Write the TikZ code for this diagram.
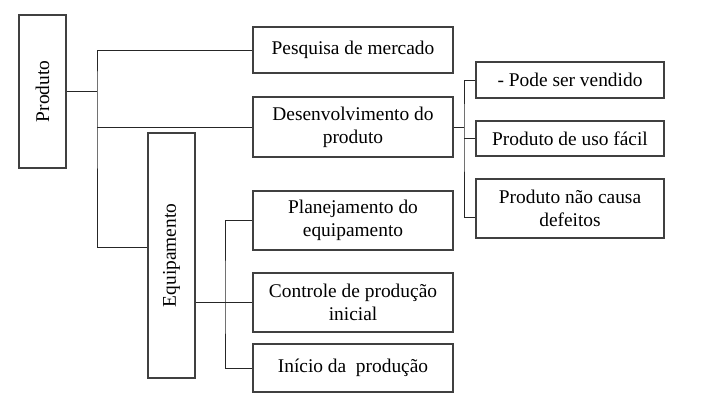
\documentclass[tikz,border=0pt]{standalone}
\usepackage{fontspec}
\setmainfont{Liberation Serif}
\usepackage{tikz}
\usetikzlibrary{calc}

\begin{document}
\begin{tikzpicture}[x=1pt,y=-1pt]
		\tikzset{bloco/.style={draw=black!75,line width=1.4pt,rectangle,inner sep=0pt,align=center,font=\fontsize{19.4}{23}\selectfont},
		liga/.style={black!85,line width=1pt}}
		\useasboundingbox (0,0) rectangle (727,408);
		\node (prod) at (42.5,91.5) [bloco,minimum width=47,minimum height=153] {\rotatebox{90}{Produto}};
		\node (equip) at (171.5,255.5) [bloco,minimum width=47,minimum height=245] {\rotatebox{90}{Equipamento}};
		\node (pesq) at (353,50) [bloco,minimum width=200,minimum height=46] {Pesquisa de mercado};
		\node (desenv) at (353,127) [bloco,minimum width=200,minimum height=60] {Desenvolvimento do\\produto};
		\node (plan) at (353,220.5) [bloco,minimum width=200,minimum height=59] {Planejamento do\\equipamento};
		\node (contr) at (353,302.5) [bloco,minimum width=200,minimum height=59] {Controle de produção\\inicial};
		\node (inicio) at (353,368) [bloco,minimum width=200,minimum height=48] {Início da~ produção};
		\node (vend) at (570,80) [bloco,minimum width=188,minimum height=36] {- Pode ser vendido};
		\node (facil) at (570,138.5) [bloco,minimum width=188,minimum height=35] {Produto de uso fácil};
		\node (defeit) at (570,208.5) [bloco,minimum width=188,minimum height=59] {Produto não causa\\defeitos};
		
		\coordinate (pj) at (97,91.5);
		\coordinate (dj) at (464,127);
		\coordinate (ej) at (225,300);
		
		\draw[liga] (prod.east) -- (pj);
		\draw[liga] (pesq.west) -| (pj) |- ([yshift=8.5pt]equip.west);
		\draw[liga] (desenv.west) -- (pj |- desenv.west);
		\draw[liga] (desenv.east) -- (dj);
		\draw[liga] (vend.west) -| (dj) |- ([yshift=-8.5pt]defeit.west);
		\draw[liga] (facil.west) -- (dj |- facil.west);
		\draw[liga] (equip.east |- contr.west) -- (contr.west);
		\draw[liga] (plan.west) -| (ej) |- (inicio.west);
	\end{tikzpicture}
\end{document}
